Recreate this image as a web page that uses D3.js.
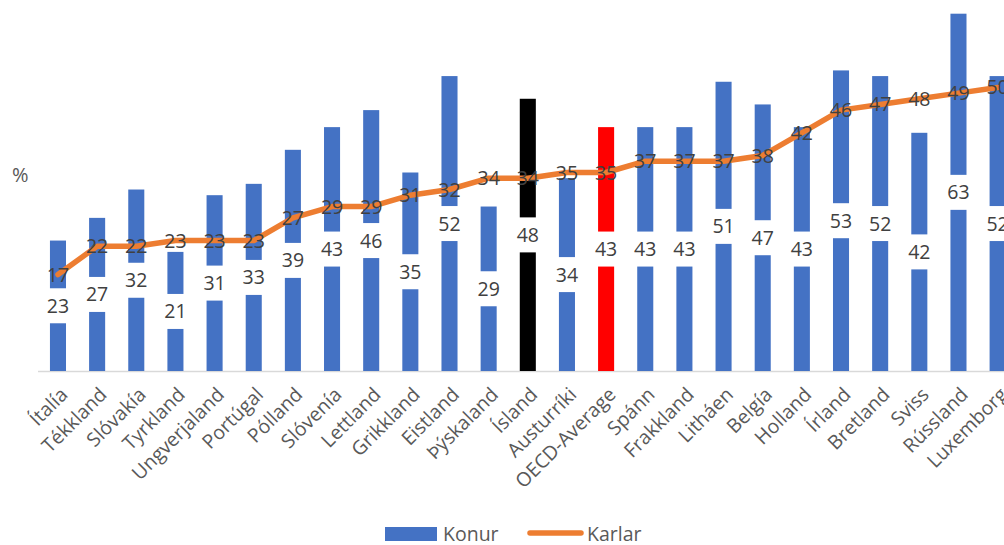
<!DOCTYPE html>
<html>
<head>
<meta charset="utf-8">
<script src="https://cdn.jsdelivr.net/npm/d3@7"></script>
<style>
  body { margin: 0; background: #fff; }
  svg { display: block; font-family: "Open Sans", sans-serif; }
</style>
</head>
<body>
<div id="chart"></div>
<script>
// data
const countries = ["Ítalía", "Tékkland", "Slóvakía", "Tyrkland", "Ungverjaland", "Portúgal",
  "Pólland", "Slóvenía", "Lettland", "Grikkland", "Eistland", "Þýskaland", "Ísland",
  "Austurríki", "OECD-Average", "Spánn", "Frakkland", "Litháen", "Belgía", "Holland",
  "Írland", "Bretland", "Sviss", "Rússland", "Luxemborg"];
const konur = [23, 27, 32, 21, 31, 33, 39, 43, 46, 35, 52, 29, 48, 34, 43, 43, 43, 51, 47, 43, 53, 52, 42, 63, 52];
const karlar = [17, 22, 22, 23, 23, 23, 27, 29, 29, 31, 32, 34, 34, 35, 35, 37, 37, 37, 38, 42, 46, 47, 48, 49, 50];

const colors = {
    konur: "#4472C4",
    karlar: "#ED7D31",
    text: "#404040",
    axisText: "#595959"
};
// special bars
const barColor = name => name === "Ísland" ? "#000000" : (name === "OECD-Average" ? "#FF0000" : colors.konur);

const width = 1004, height = 545;
const svg = d3.select("#chart").append("svg")
    .attr("width", width).attr("height", height);

const x = d3.scaleBand()
    .domain(countries)
    .range([38.4, 1017.2])
    .padding(0);
const y = d3.scaleLinear()
    .domain([0, 70])
    .range([371, -26]);

const bw = x.bandwidth() * 0.41;
const cx = name => x(name) + x.bandwidth() / 2;

const data = countries.map((c, i) => ({ name: c, konur: konur[i], karlar: karlar[i] }));

// axis line
svg.append("line")
    .attr("x1", 38).attr("x2", width)
    .attr("y1", y(0) + 0.5).attr("y2", y(0) + 0.5)
    .attr("stroke", "#d9d9d9").attr("stroke-width", 1.5);

// bars
svg.selectAll(".bar")
    .data(data)
    .enter().append("rect")
    .attr("class", "bar")
    .attr("x", d => cx(d.name) - bw / 2)
    .attr("width", bw)
    .attr("y", d => y(d.konur))
    .attr("height", d => y(0) - y(d.konur))
    .attr("fill", d => barColor(d.name));

// bar labels with white box
const bl = svg.selectAll(".blabel")
    .data(data)
    .enter().append("g")
    .attr("class", "blabel")
    .attr("transform", d => `translate(${cx(d.name)},${y(d.konur / 2)})`);
bl.append("rect")
    .attr("x", -bw / 2 - 1).attr("width", bw + 2)
    .attr("y", -17.5).attr("height", 35)
    .attr("fill", "#fff");
bl.append("text")
    .attr("text-anchor", "middle")
    .attr("dy", "0.36em")
    .attr("font-size", 19.5)
    .attr("fill", colors.text)
    .text(d => d.konur);

// line
const line = d3.line()
    .x(d => cx(d.name))
    .y(d => y(d.karlar));
svg.append("path")
    .datum(data)
    .attr("fill", "none")
    .attr("stroke", colors.karlar)
    .attr("stroke-width", 5.5)
    .attr("stroke-linejoin", "round")
    .attr("stroke-linecap", "round")
    .attr("d", line);

svg.selectAll(".llabel")
    .data(data)
    .enter().append("text")
    .attr("class", "llabel")
    .attr("x", d => cx(d.name))
    .attr("y", d => y(d.karlar))
    .attr("dy", "0.36em")
    .attr("text-anchor", "middle")
    .attr("font-size", 19.5)
    .attr("fill", colors.text)
    .text(d => d.karlar);

// category labels
svg.selectAll(".cat")
    .data(countries)
    .enter().append("text")
    .attr("class", "cat")
    .attr("transform", d => `translate(${cx(d) + 6},${391}) rotate(-45)`)
    .attr("text-anchor", "end")
    .attr("dy", "0.35em")
    .attr("font-size", 19.5)
    .attr("fill", colors.axisText)
    .text(d => d);

// % label
svg.append("text")
    .attr("x", 12).attr("y", 182)
    .attr("font-size", 20)
    .attr("fill", colors.axisText)
    .text("%");

// legend
const legend = svg.append("g");
legend.append("rect")
    .attr("x", 385).attr("y", 527).attr("width", 52).attr("height", 14)
    .attr("fill", colors.konur);
legend.append("text")
    .attr("x", 443).attr("y", 541)
    .attr("font-size", 19.5)
    .attr("fill", colors.axisText)
    .text("Konur");
legend.append("line")
    .attr("x1", 530).attr("x2", 581).attr("y1", 533).attr("y2", 533)
    .attr("stroke", colors.karlar).attr("stroke-width", 5.5)
    .attr("stroke-linecap", "round");
legend.append("text")
    .attr("x", 587).attr("y", 541)
    .attr("font-size", 19.5)
    .attr("fill", colors.axisText)
    .text("Karlar");
</script>
</body>
</html>
